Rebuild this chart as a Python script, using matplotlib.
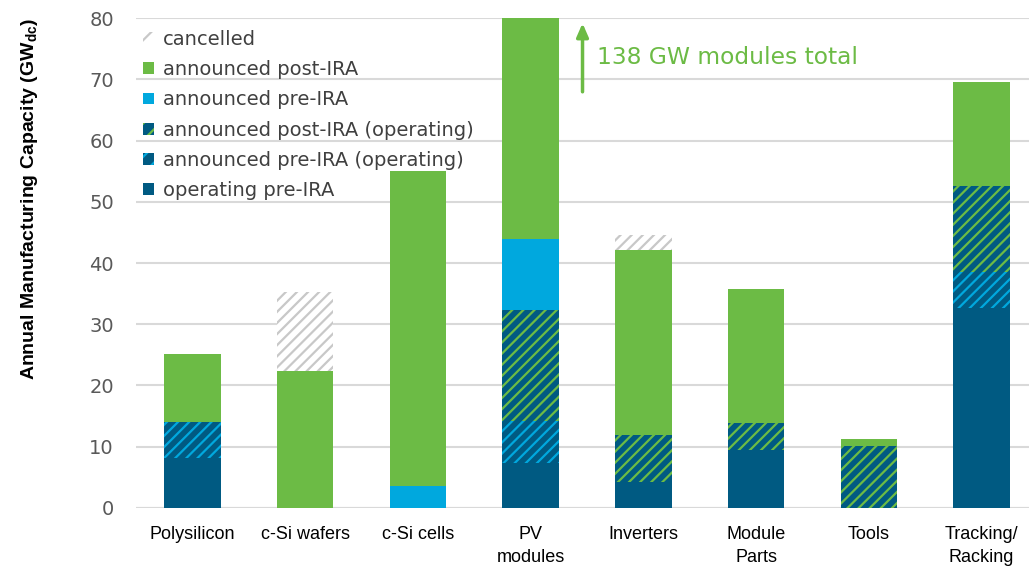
import matplotlib
matplotlib.use("Agg")
import matplotlib.pyplot as plt
from matplotlib.patches import Patch
import numpy as np

categories = ["Polysilicon", "c-Si wafers", "c-Si cells", "PV\nmodules", "Inverters",
              "Module\nParts", "Tools", "Tracking/\nRacking"]

# GW_dc per stack segment, bottom to top
operating_pre_ira = [8.2, 0, 0, 7.3, 4.3, 9.5, 0, 32.7]
announced_pre_ira_operating = [5.9, 0, 0, 6.9, 0, 0, 0, 5.9]
announced_post_ira_operating = [0, 0, 0, 18.1, 7.6, 4.4, 10.1, 14.0]
announced_pre_ira = [0, 0, 3.6, 11.6, 0, 0, 0, 0]
announced_post_ira = [11.0, 22.4, 51.4, 94.2, 30.2, 21.8, 1.1, 16.9]
cancelled = [0, 12.9, 0, 0, 2.4, 0, 0, 0]

pv_modules_total = 138

DARK = "#005a82"
LIGHT = "#00a8de"
GREEN = "#6cbb45"
GREY = "#c8c8c8"
NARROW = ["Liberation Sans", "DejaVu Sans"]

plt.rcParams["hatch.linewidth"] = 1.6

fig = plt.figure(figsize=(10.29, 5.74), dpi=100)
ax = fig.add_axes([0.1322, 0.115, 0.8678, 0.8536])

x = np.arange(len(categories))
w = 0.5

# (values, label, face, hatch colour or None)
segments = [
    (operating_pre_ira, "operating pre-IRA", DARK, None),
    (announced_pre_ira_operating, "announced pre-IRA (operating)", DARK, LIGHT),
    (announced_post_ira_operating, "announced post-IRA (operating)", DARK, GREEN),
    (announced_pre_ira, "announced pre-IRA", LIGHT, None),
    (announced_post_ira, "announced post-IRA", GREEN, None),
    (cancelled, "cancelled", "white", GREY),
]

bottom = np.zeros(len(categories))
handles = []
for vals, label, face, hcol in segments:
    vals = np.array(vals, dtype=float)
    if hcol is None:
        ax.bar(x, vals, w, bottom=bottom, color=face, linewidth=0, zorder=2)
        handles.append(Patch(facecolor=face, edgecolor=face, linewidth=0, label=label))
    else:
        ax.bar(x, vals, w, bottom=bottom, facecolor=face, edgecolor=hcol,
               hatch="///", linewidth=0, zorder=2)
        handles.append(Patch(facecolor=face, edgecolor=hcol, hatch="//",
                             linewidth=0, label=label))
    bottom += vals

ax.set_xlim(-0.5, 7.42)
ax.set_ylim(0, 80)
ax.set_yticks(range(0, 81, 10))
ax.yaxis.grid(True, color="#d9d9d9", linewidth=1.5, zorder=0)
ax.set_axisbelow(True)
for s in ax.spines.values():
    s.set_visible(False)
ax.axhline(0, color="#d9d9d9", linewidth=1.5, zorder=1)

ax.set_xticks(x)
ax.set_xticklabels(categories, fontsize=13, family=NARROW, color="black", linespacing=1.45)
ax.tick_params(axis="x", length=0, pad=13)
ax.tick_params(axis="y", length=0, pad=16, labelsize=14, labelcolor="#595959")

ax.set_ylabel(r"Annual Manufacturing Capacity (GW$_{\mathregular{dc}}$)",
              fontsize=14, fontweight="bold", family=NARROW)
ax.yaxis.set_label_coords(-0.108, 0.63)

leg = ax.legend(handles=handles[::-1], loc="upper left", bbox_to_anchor=(-0.005, 1.0),
                frameon=False, fontsize=14, handlelength=0.55, handleheight=0.55,
                handletextpad=0.45, labelspacing=0.58, borderaxespad=0.2)
for t in leg.get_texts():
    t.set_color("#404040")

# PV modules runs off the top of the axis
ax.annotate("", xy=(3.46, 79.6), xytext=(3.46, 67.5),
            arrowprops=dict(arrowstyle="-|>,head_width=0.35,head_length=0.8",
                            color=GREEN, lw=2.5))
ax.text(3.59, 73.5, f"{pv_modules_total} GW modules total", color=GREEN, fontsize=16.8,
        va="center", ha="left")

fig.savefig("out.png", dpi=100)
